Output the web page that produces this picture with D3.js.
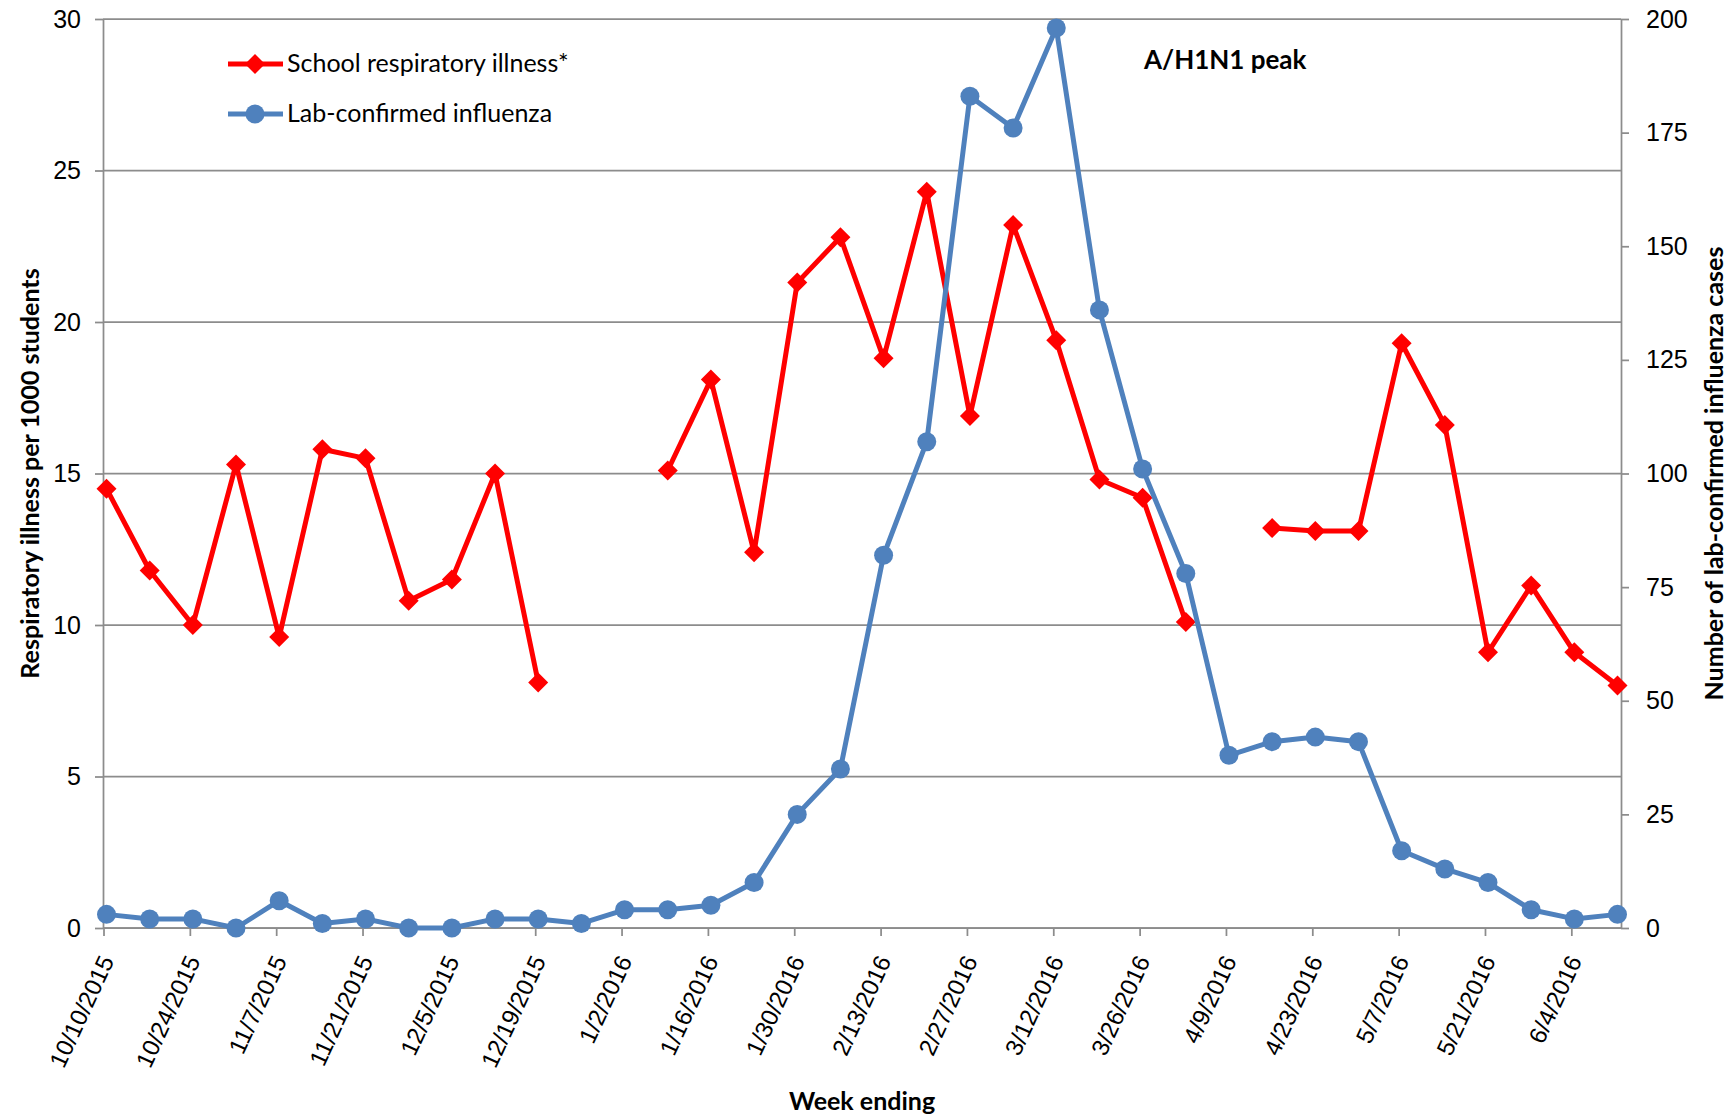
<!DOCTYPE html>
<html>
<head>
<meta charset="utf-8">
<title>School respiratory illness and lab-confirmed influenza</title>
<script src="https://d3js.org/d3.v7.min.js"></script>
<style>
body{ margin:0; background:#fff; }
svg{ font-family: Lato, "Open Sans", sans-serif; }
.grid line{ stroke:#8c8c8c; stroke-width:1.75; }
.axis path, .axis line, .baseline{ stroke:#8c8c8c; stroke-width:1.75; }
.axis text{ font-size:25px; fill:#000; }
.x-axis text{ font-size:24px; }
.title{ font-size:25px; font-weight:bold; fill:#000; }
.note{ font-size:26px; font-weight:bold; fill:#000; }
.legend text{ font-size:25px; fill:#000; }
</style>
</head>
<body>
<script>
// week ending dates (one point per week)
var weeks = [
	"10/10/2015","10/17/2015","10/24/2015","10/31/2015","11/7/2015","11/14/2015",
	"11/21/2015","11/28/2015","12/5/2015","12/12/2015","12/19/2015","12/26/2015",
	"1/2/2016","1/9/2016","1/16/2016","1/23/2016","1/30/2016","2/6/2016",
	"2/13/2016","2/20/2016","2/27/2016","3/5/2016","3/12/2016","3/19/2016",
	"3/26/2016","4/2/2016","4/9/2016","4/16/2016","4/23/2016","4/30/2016",
	"5/7/2016","5/14/2016","5/21/2016","5/28/2016","6/4/2016","6/11/2016"
];

// respiratory illness per 1000 students (left axis), null = no school data
var illness = [
	14.5, 11.8, 10.0, 15.3, 9.6, 15.8,
	15.5, 10.8, 11.5, 15.0, 8.1, null,
	null, 15.1, 18.1, 12.4, 21.3, 22.8,
	18.8, 24.3, 16.9, 23.2, 19.4, 14.8,
	14.2, 10.1, null, 13.2, 13.1, 13.1,
	19.3, 16.6, 9.1, 11.3, 9.1, 8.0
];

// number of lab-confirmed influenza cases (right axis)
var influenza = [
	3, 2, 2, 0, 6, 1,
	2, 0, 0, 2, 2, 1,
	4, 4, 5, 10, 25, 35,
	82, 107, 183, 176, 198, 136,
	101, 78, 38, 41, 42, 41,
	17, 13, 10, 4, 2, 3
];

var leftTicks = [0, 5, 10, 15, 20, 25, 30];
var rightTicks = [0, 25, 50, 75, 100, 125, 150, 175, 200];
var seriesNames = ["School respiratory illness*", "Lab-confirmed influenza"];
var note = "A/H1N1 peak";

var width = 1735, height = 1118,
	plotLeft = 103, plotRight = 1621, plotTop = 19, plotBottom = 928;

var parse = d3.utcParse("%m/%d/%Y"),
	fmt = d3.utcFormat("%-m/%-d/%Y");

var dates = weeks.map(function(w){ return parse(w); });
var labelDates = dates.filter(function(d, i){ return i % 2 === 0; });

// points sit a little inside the plot edges, ticks a few px left of the points (as in Excel's date axis)
var x = d3.scaleUtc().domain(d3.extent(dates)).range([plotLeft + 3.5, plotRight - 3.5]),
	yL = d3.scaleLinear().domain([0, 30]).range([plotBottom, plotTop]),
	yR = d3.scaleLinear().domain([0, 200]).range([plotBottom, plotTop]);

var svg = d3.select("body").append("svg")
	.attr("width", width).attr("height", height);

svg.append("rect").attr("width", width).attr("height", height).attr("fill", "#fff");

// horizontal gridlines
svg.append("g").attr("class", "grid")
	.selectAll("line").data(leftTicks).enter().append("line")
		.attr("x1", plotLeft).attr("x2", plotRight)
		.attr("y1", function(d){ return yL(d); })
		.attr("y2", function(d){ return yL(d); });

// axes
svg.append("g").attr("class", "axis")
	.attr("transform", "translate(" + plotLeft + ",0)")
	.call(d3.axisLeft(yL).tickValues(leftTicks).tickSize(8).tickSizeOuter(0).tickPadding(14));

svg.append("g").attr("class", "axis")
	.attr("transform", "translate(" + plotRight + ",0)")
	.call(d3.axisRight(yR).tickValues(rightTicks).tickSize(8).tickSizeOuter(0).tickPadding(17));

var xAxis = svg.append("g").attr("class", "axis x-axis")
	.attr("transform", "translate(-3," + plotBottom + ")")
	.call(d3.axisBottom(x).tickValues(labelDates).tickSize(8).tickSizeOuter(0).tickFormat(fmt));

xAxis.select(".domain").remove();
svg.append("line").attr("class", "baseline")
	.attr("x1", plotLeft).attr("x2", plotRight)
	.attr("y1", plotBottom).attr("y2", plotBottom);

xAxis.selectAll("text")
	.attr("x", 0).attr("y", 0).attr("dy", "0.35em")
	.attr("text-anchor", "end")
	.attr("transform", "translate(3,29) rotate(-65)");

// series
var redData = dates.map(function(d, i){ return {date:d, v:illness[i]}; }),
	blueData = dates.map(function(d, i){ return {date:d, v:influenza[i]}; });

var redLine = d3.line()
	.defined(function(d){ return d.v !== null; })
	.x(function(d){ return x(d.date); })
	.y(function(d){ return yL(d.v); });

var blueLine = d3.line()
	.x(function(d){ return x(d.date); })
	.y(function(d){ return yR(d.v); });

var diamond = d3.symbol().type(d3.symbolSquare).size(200);

svg.append("path").datum(redData)
	.attr("d", redLine)
	.attr("fill", "none").attr("stroke", "#ff0000").attr("stroke-width", 5)
	.attr("stroke-linejoin", "round");

svg.append("g").selectAll("path")
	.data(redData.filter(function(d){ return d.v !== null; }))
	.enter().append("path")
		.attr("d", diamond)
		.attr("fill", "#ff0000")
		.attr("transform", function(d){
			return "translate(" + x(d.date) + "," + yL(d.v) + ") rotate(45)";
		});

svg.append("path").datum(blueData)
	.attr("d", blueLine)
	.attr("fill", "none").attr("stroke", "#4f81bd").attr("stroke-width", 5)
	.attr("stroke-linejoin", "round");

svg.append("g").selectAll("circle")
	.data(blueData)
	.enter().append("circle")
		.attr("cx", function(d){ return x(d.date); })
		.attr("cy", function(d){ return yR(d.v); })
		.attr("r", 9.5)
		.attr("fill", "#4f81bd");

// axis titles
svg.append("text").attr("class", "title")
	.attr("transform", "translate(39," + (plotTop + plotBottom) / 2 + ") rotate(-90)")
	.attr("text-anchor", "middle")
	.text("Respiratory illness per 1000 students");

svg.append("text").attr("class", "title")
	.attr("transform", "translate(1723," + (plotTop + plotBottom) / 2 + ") rotate(-90)")
	.attr("text-anchor", "middle")
	.text("Number of lab-confirmed influenza cases");

svg.append("text").attr("class", "title")
	.attr("x", (plotLeft + plotRight) / 2).attr("y", 1110)
	.attr("text-anchor", "middle")
	.text("Week ending");

svg.append("text").attr("class", "note")
	.attr("x", 1144).attr("y", 69)
	.text(note);

// legend
var legend = svg.append("g").attr("class", "legend");

legend.append("line").attr("x1", 228).attr("x2", 283).attr("y1", 64).attr("y2", 64)
	.attr("stroke", "#ff0000").attr("stroke-width", 5);
legend.append("path").attr("d", diamond).attr("fill", "#ff0000")
	.attr("transform", "translate(255,64) rotate(45)");
legend.append("text").attr("x", 287).attr("y", 72).text(seriesNames[0]);

legend.append("line").attr("x1", 228).attr("x2", 283).attr("y1", 114).attr("y2", 114)
	.attr("stroke", "#4f81bd").attr("stroke-width", 5);
legend.append("circle").attr("cx", 255).attr("cy", 114).attr("r", 9.5).attr("fill", "#4f81bd");
legend.append("text").attr("x", 287).attr("y", 122).text(seriesNames[1]);
</script>
</body>
</html>
